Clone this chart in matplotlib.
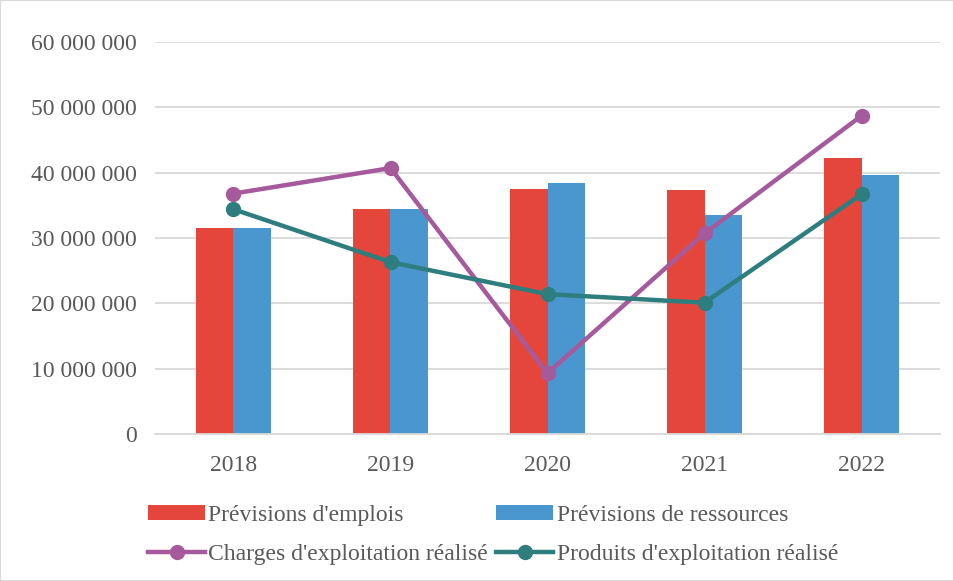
import matplotlib
matplotlib.use("Agg")
import matplotlib.pyplot as plt
import numpy as np
from matplotlib.ticker import FuncFormatter

years = ["2018", "2019", "2020", "2021", "2022"]
previsions_emplois = [31.6e6, 34.5e6, 37.45e6, 37.4e6, 42.2e6]
previsions_ressources = [31.6e6, 34.5e6, 38.4e6, 33.5e6, 39.7e6]
charges_realise = [36.8e6, 40.7e6, 9.3e6, 30.7e6, 48.7e6]
produits_realise = [34.4e6, 26.3e6, 21.4e6, 20.1e6, 36.7e6]

plt.rcParams['font.family'] = ['Liberation Serif', 'DejaVu Serif']

fig = plt.figure(figsize=(9.54, 5.81), dpi=100)
ax = fig.add_axes([155/954, 1-434/581, 785/954, 392/581])

x = np.arange(len(years))
w = 0.236
b1 = ax.bar(x - w/2, previsions_emplois, w, color='#E5463C', label="Prévisions d'emplois", zorder=2)
b2 = ax.bar(x + w/2, previsions_ressources, w, color='#4A96CE', label="Prévisions de ressources", zorder=2)
l1, = ax.plot(x, charges_realise, color='#A55A9C', lw=3.2, marker='o', ms=10, label="Charges d'exploitation réalisé", zorder=3)
l2, = ax.plot(x, produits_realise, color='#2E7D7F', lw=3.2, marker='o', ms=10, label="Produits d'exploitation réalisé", zorder=3)

ax.set_xlim(-0.5, 4.5)
ax.set_ylim(0, 60e6)
ax.set_yticks(np.arange(0, 60e6 + 1, 10e6))
ax.yaxis.set_major_formatter(FuncFormatter(lambda v, p: f"{int(v):,}".replace(",", " ")))
ax.set_xticks(x)
ax.set_xticklabels(years)
ax.grid(axis='y', color='#d9d9d9', lw=1.3, zorder=0)
for s in ['top', 'right', 'left']:
    ax.spines[s].set_visible(False)
ax.spines['bottom'].set_color('#d9d9d9')
ax.spines['bottom'].set_linewidth(1.3)
ax.tick_params(axis='both', length=0, labelsize=17, colors='#595959')
ax.tick_params(axis='y', pad=13)
ax.tick_params(axis='x', pad=15)

leg = fig.legend([b1, l1, b2, l2],
                 [b1.get_label(), l1.get_label(), b2.get_label(), l2.get_label()],
                 loc='lower left', bbox_to_anchor=(127/954, -5/581), ncol=2, frameon=False,
                 fontsize=17, handlelength=2.4, handletextpad=0.15, columnspacing=0.35,
                 labelspacing=0.75, handleheight=0.6)
for t in leg.get_texts():
    t.set_color('#595959')

fig.patches.append(matplotlib.patches.Rectangle((0, 0), 1, 1, transform=fig.transFigure,
                                                fill=False, edgecolor='#d9d9d9', lw=1.5))
fig.savefig('out.png', dpi=100)
